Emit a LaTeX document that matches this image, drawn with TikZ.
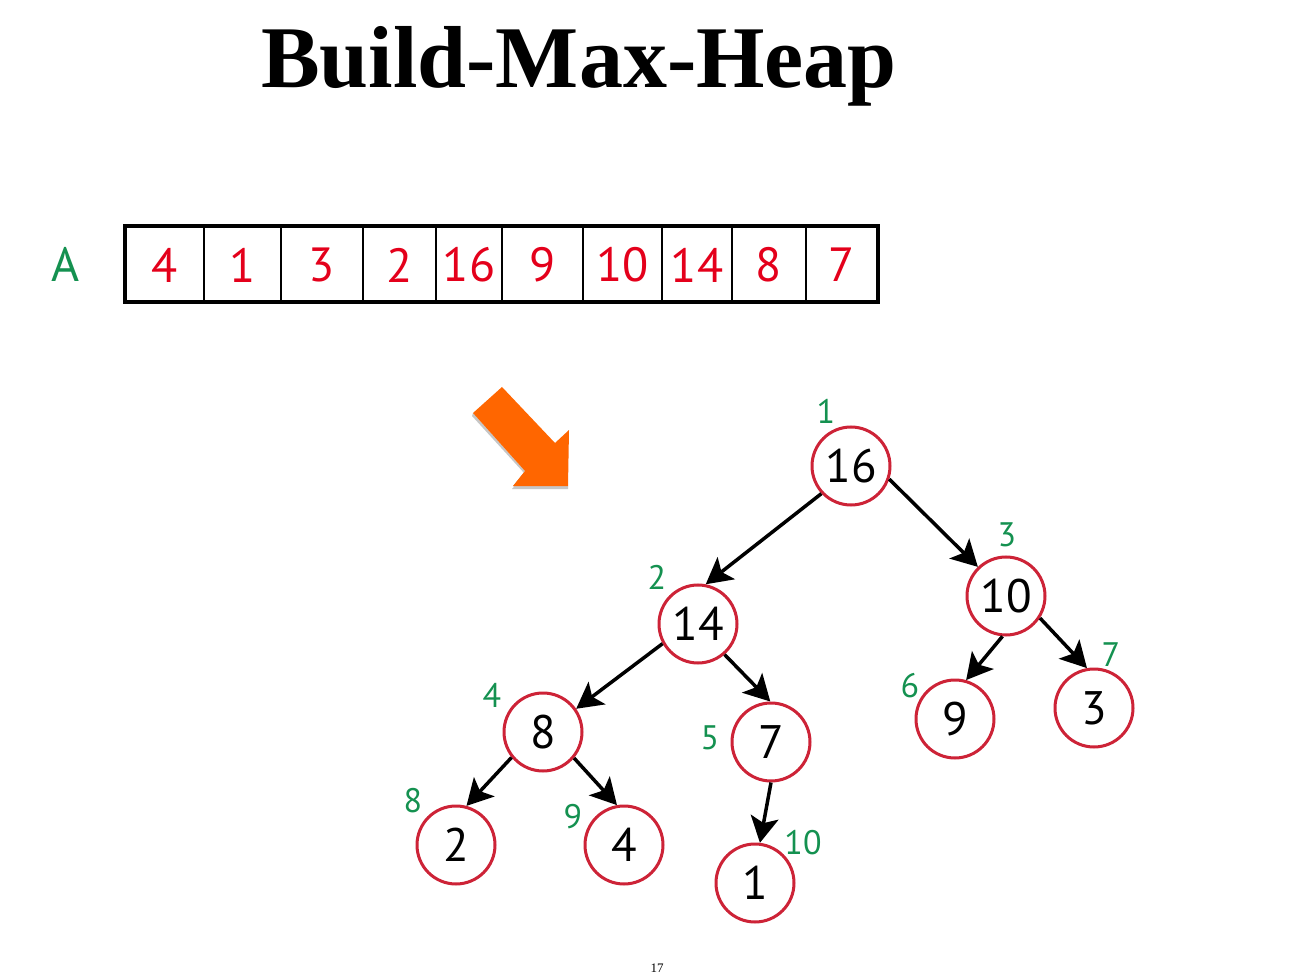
\documentclass[tikz,border=0pt]{standalone}
\usepackage{fontspec}
\setmainfont{Liberation Serif}
\newfontfamily\digitfont{PT Sans}
\usetikzlibrary{arrows.meta}

\definecolor{heapred}{RGB}{228,0,27}
\definecolor{ringred}{RGB}{205,35,55}
\definecolor{idxgreen}{RGB}{20,145,80}
\definecolor{arroworange}{RGB}{255,102,0}

\tikzset{
	heapnode/.style = {circle, draw=ringred, line width=3pt, minimum size=78pt, inner sep=0pt, font=\digitfont\fontsize{47}{47}\selectfont},
	idx/.style = {text=idxgreen, font=\digitfont\fontsize{34}{34}\selectfont},
	cellnum/.style = {text=heapred, font=\digitfont\fontsize{48}{48}\selectfont},
	edge/.style = {line width=3.5pt, -{Stealth[length=26pt, width=28pt, inset=6pt]}},
}

\begin{document}
\begin{tikzpicture}[x = 1pt, y = -1pt]
	\useasboundingbox[fill=white] (0,0) rectangle (1294,976);
	
	% title
	\node[anchor=base, font=\bfseries\fontsize{88}{88}\selectfont] (title) at (579,88) {Build-Max-Heap};
	
	% array A
	\node[text=idxgreen, font=\digitfont\fontsize{48}{48}\selectfont] (lblA) at (66,264) {A};
	\foreach \l/\r/\v [count=\i] in {125/204/4, 204/281/1, 281/363/3, 363/436/2, 436/502/16, 502/583/9, 583/662/10, 662/732/14, 732/806/8, 806/878/7} {
		\draw[line width=2.5pt] (\l,226) rectangle (\r,302);
		\node[cellnum] (a\i) at ({(\l+\r)/2},265) {\v};
	}
	\draw[line width=3.5pt] (125,226) rectangle (878,302);
	
	% orange arrow
	\fill[gray!45] (472,416) -- (525,474) -- (512,489) -- (568,489) -- (568,486) -- (513,486) -- (525,471) -- (473,413) -- cycle;
	\fill[arroworange] (473,413) -- (502,387) -- (555,443) -- (569,430) -- (568,486) -- (513,486) -- (525,471) -- cycle;
	
	% heap
	\node[heapnode] (v1) at (851,466) {16};
	\node[heapnode] (v2) at (698,624) {14};
	\node[heapnode] (v3) at (1006,596) {10};
	\node[heapnode] (v4) at (543,732) {8};
	\node[heapnode] (v5) at (771,742) {7};
	\node[heapnode] (v6) at (955,719) {9};
	\node[heapnode] (v7) at (1094,708) {3};
	\node[heapnode] (v8) at (456,845) {2};
	\node[heapnode] (v9) at (624,845) {4};
	\node[heapnode] (v10) at (755,883) {1};
	
	% indices
	\node[idx] (i1) at (826,411) {1};
	\node[idx] (i2) at (657,577) {2};
	\node[idx] (i3) at (1007,535) {3};
	\node[idx] (i4) at (492,695) {4};
	\node[idx] (i5) at (710,738) {5};
	\node[idx] (i6) at (910,686) {6};
	\node[idx] (i7) at (1111,655) {7};
	\node[idx] (i8) at (413,801) {8};
	\node[idx] (i9) at (573,817) {9};
	\node[idx] (i10) at (803,843) {10};
	
	% edges
	\draw[edge] (v1.223) -- (v2.79);
	\draw[edge] (v1.341) -- (v3.134);
	\draw[edge] (v2.209) -- (v4.35);
	\draw[edge] (v2.311) -- (v5.91);
	\draw[edge] (v3.265) -- (v6.74);
	\draw[edge] (v3.327) -- (v7.100);
	\draw[edge] (v4.219) -- (v8.75);
	\draw[edge] (v4.320) -- (v9.100);
	\draw[edge] (v5.270) -- (v10.83);
	
	% page number
	\node[font=\fontsize{13}{13}\selectfont] (pagenum) at (657,968) {17};
\end{tikzpicture}
\end{document}
